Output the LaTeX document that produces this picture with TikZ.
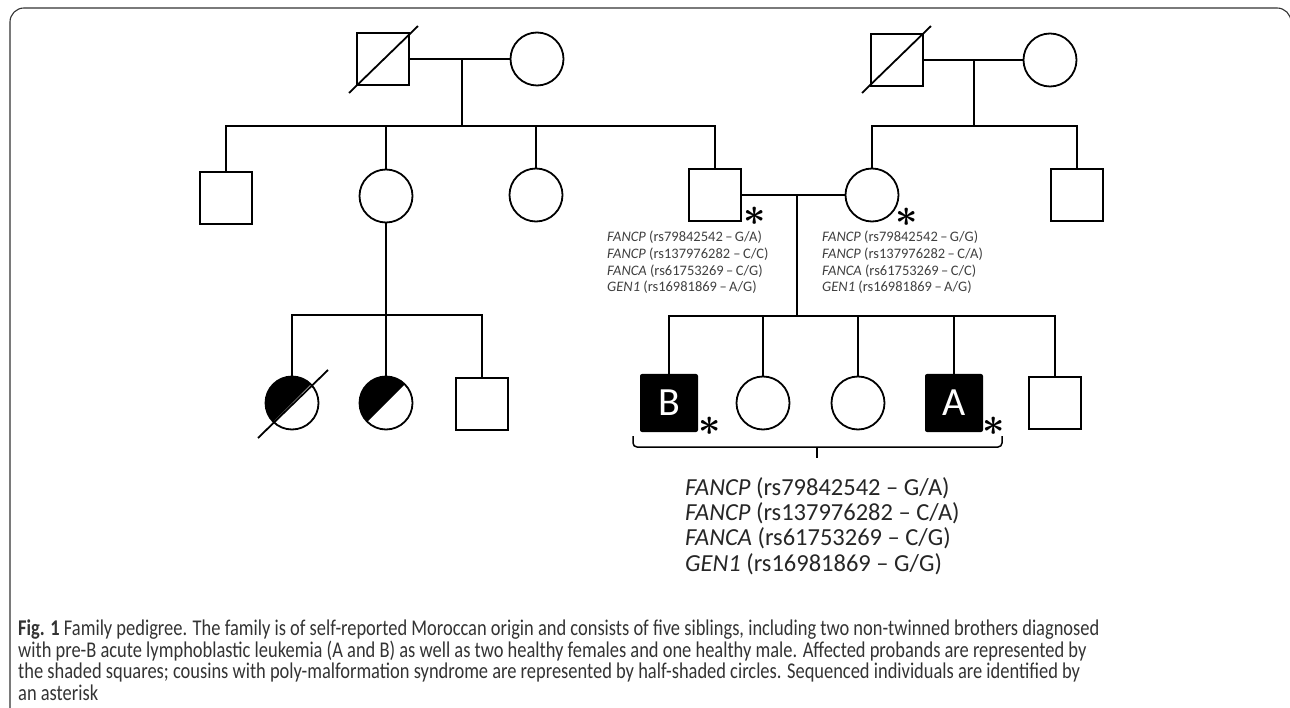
\documentclass[tikz,border=0pt]{standalone}
\usepackage{fontspec}
\setmainfont{Carlito}
\newfontfamily\capfont[FakeStretch=0.82]{Carlito}
\usetikzlibrary{calc}

\begin{document}
\begin{tikzpicture}[x=1pt,y=-1pt]
\tikzstyle{link}=[line width=1.8pt]
\tikzstyle{male}=[rectangle, draw, line width=1.8pt, minimum size=52pt, inner sep=0pt]
\tikzstyle{female}=[circle, draw, line width=1.8pt, minimum size=53pt, inner sep=0pt]
\tikzstyle{halfshade}=[female, path picture={\fill (path picture bounding box.north west) -- (path picture bounding box.north east) -- (path picture bounding box.south west) -- cycle;}]
\tikzstyle{proband}=[rectangle, fill=black, rounded corners=2pt, minimum size=58pt, inner sep=0pt, text=white, font=\fontsize{40}{40}\selectfont]
\tikzstyle{seq}=[inner sep=0pt]
\tikzstyle{geno}=[align=left, anchor=north west, inner sep=0pt, text=black!75, font=\fontsize{14.5}{16.7}\selectfont]

\useasboundingbox (0,0) rectangle (1290,708);
\draw[black!80, line width=1.1pt, rounded corners=14pt] (10,740) -- (10,8) -- (1291,8) -- (1291,740);

\node[male] (gf1) at (383,59) {};
\node[female] (gm1) at (537,59) {};
\node[male] (gf2) at (897,60) {};
\node[female] (gm2) at (1050,60) {};
\draw[link] ([shift={(-7,7)}]gf1.south west) -- ([shift={(8,-6)}]gf1.north east);
\draw[link] ([shift={(-8,6)}]gf2.south west) -- ([shift={(7,-7)}]gf2.north east);

\coordinate (m1) at (462,59);
\coordinate (k1) at (462,126);
\coordinate (m2) at (974,60);
\coordinate (k2) at (974,126);
\draw[link] (gf1.east) -- (gm1.west);
\draw[link] (m1) -- (k1);
\draw[link] (gf2.east) -- (gm2.west);
\draw[link] (m2) -- (k2);

\node[male] (c1) at (226,198) {};
\node[female] (c2) at (386,196) {};
\node[female] (c3) at (536,195) {};
\node[male] (fa) at (715,195) {};
\node[female] (mo) at (872,195) {};
\node[male] (un) at (1077,195) {};
\draw[link] (c1.north) |- (fa.north |- k1) -- (fa.north);
\draw[link] (c2.north) -- (c2.north |- k1);
\draw[link] (c3.north) -- (c3.north |- k1);
\draw[link] (mo.north) |- (un.north |- k2) -- (un.north);

\coordinate (m3) at (797,195);
\coordinate (k3) at (797,316);
\draw[link] (fa.east) -- (mo.west);
\draw[link] (m3) -- (k3);

\node[seq] (sfa) at (755,216) {\scalebox{3.9}{\boldmath$\ast$}};
\node[seq] (smo) at (907,217) {\scalebox{3.9}{\boldmath$\ast$}};

\node[geno] (tfa) at (607,231) {\textit{FANCP} (rs79842542\,–\,G/A)\\\textit{FANCP} (rs137976282 –\,C/C)\\\textit{FANCA} (rs61753269\,–\,C/G)\\\textit{GEN1} (rs16981869\,–\,A/G)};
\node[geno] (tmo) at (822,231) {\textit{FANCP} (rs79842542\,–\,G/G)\\\textit{FANCP} (rs137976282\,–\,C/A)\\\textit{FANCA} (rs61753269\,–\,C/C)\\\textit{GEN1} (rs16981869\,–\,A/G)};

\node[halfshade] (h1) at (292,403) {};
\node[halfshade] (h2) at (386,403) {};
\node[male] (c4) at (482,404) {};
\coordinate (k4) at (386,315);
\draw[link] (c2.south) -- (k4);
\draw[link] (h1.north) |- (c4.north |- k4) -- (c4.north);
\draw[link] (h2.north) -- (h2.north |- k4);
\draw[link] ([shift={(-34,35)}]h1.center) -- ([shift={(36,-33)}]h1.center);

\node[proband] (pb) at (669,403) {B};
\node[female] (s2) at (763,403) {};
\node[female] (s3) at (858,403) {};
\node[proband] (pa) at (954,403) {A};
\node[male] (s5) at (1055,403) {};
\draw[link] (pb.north) |- (s5.north |- k3) -- (s5.north);
\draw[link] (s2.north) -- (s2.north |- k3);
\draw[link] (s3.north) -- (s3.north |- k3);
\draw[link] (pa.north) -- (pa.north |- k3);

\node[seq] (spb) at (710,426) {\scalebox{3.9}{\boldmath$\ast$}};
\node[seq] (spa) at (994,426) {\scalebox{3.9}{\boldmath$\ast$}};

\coordinate (bl) at (633,436);
\coordinate (br) at (1002,436);
\coordinate (bm) at (817,447);
\draw[line width=1.5pt, rounded corners=4pt] (bl) -- (bl |- bm) -- (br |- bm) -- (br);
\draw[line width=1.5pt] (bm) -- ++(0,11);

\node[align=left, anchor=north west, inner sep=0pt, text=black!85, font=\fontsize{24.5}{25.3}\selectfont] (tsib) at (685,477) {\textit{FANCP} (rs79842542 – G/A)\\\textit{FANCP} (rs137976282 – C/A)\\\textit{FANCA} (rs61753269 – C/G)\\\textit{GEN1} (rs16981869 – G/G)};

\node[align=left, anchor=north west, inner sep=0pt, text=black!80, font=\capfont\fontsize{22.5}{21.5}\selectfont] (cap) at (18,620) {\textbf{Fig. 1} Family pedigree. The family is of self-reported Moroccan origin and consists of five siblings, including two non-twinned brothers diagnosed\\with pre-B acute lymphoblastic leukemia (A and B) as well as two healthy females and one healthy male. Affected probands are represented by\\the shaded squares; cousins with poly-malformation syndrome are represented by half-shaded circles. Sequenced individuals are identified by\\an asterisk};
\end{tikzpicture}
\end{document}
